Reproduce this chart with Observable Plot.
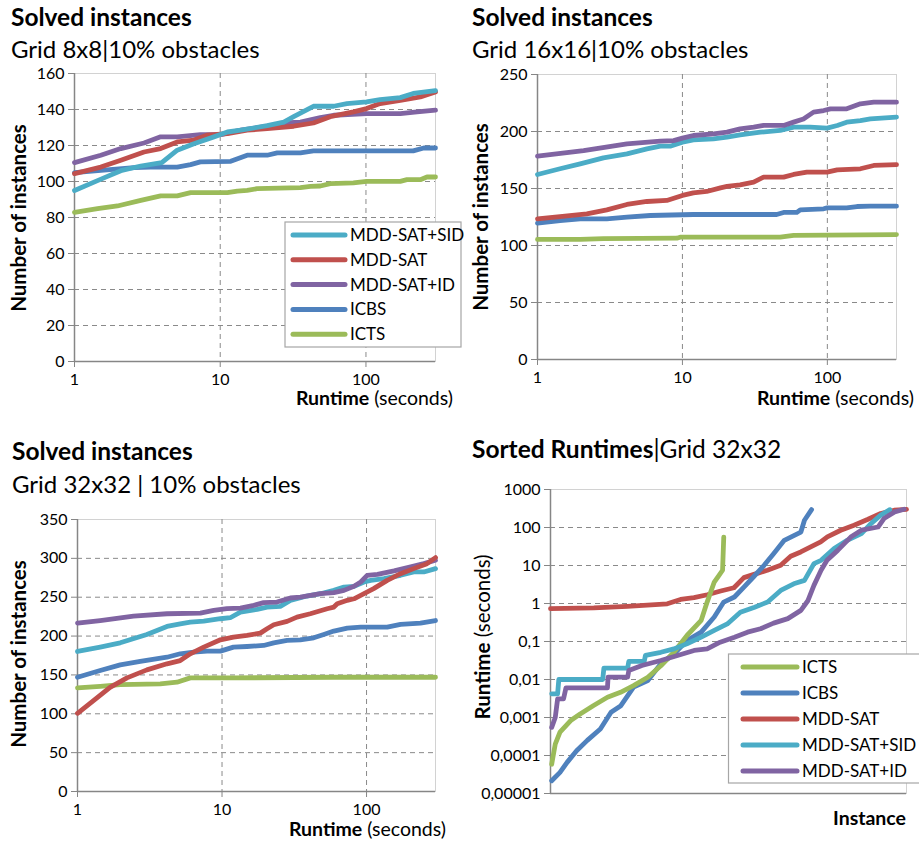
<!DOCTYPE html>
<html><head><meta charset="utf-8">
<script src="https://cdn.jsdelivr.net/npm/d3@7"></script>
<script src="https://cdn.jsdelivr.net/npm/@observablehq/plot@0.6"></script>
<style>
body{margin:0;width:919px;height:841px;overflow:hidden;background:#fff;position:relative;font-family:Lato,sans-serif}
.panel{position:absolute}
#overlay{position:absolute;left:0;top:0;z-index:5}
</style></head><body>
<script>
// ---------- series names and colours ----------
const SERIES = ["MDD-SAT+SID","MDD-SAT","MDD-SAT+ID","ICBS","ICTS"];
const COLORS = ["#4BACC6","#C0504D","#8064A2","#4F81BD","#9BBB59"];
const LEGEND1_ORDER = ["MDD-SAT+SID","MDD-SAT","MDD-SAT+ID","ICBS","ICTS"];
const LEGEND4_ORDER = ["ICTS","ICBS","MDD-SAT","MDD-SAT+SID","MDD-SAT+ID"];
const X_TICKS = [1,10,100];
const LOG_TICKS = [0.00001,0.0001,0.001,0.01,0.1,1,10,100,1000];
const LOG_TICK_LABELS = ["0,00001","0,0001","0,001","0,01","0,1","1","10","100","1000"];

// ---------- Panel 1: Grid 8x8 ----------
const p1SidX = [1,1.52,2.08,2.85,3.97,5.07,6.6,9.05,11.2,13.8,21,27.3,31.9,43.6,60,74,101,125,172,211,300];
const p1SidY = [95,101.3,106,108.6,110.5,117.4,121,124.8,127.5,128.5,131,133,136,141.8,141.8,143.3,144.2,145.5,146.6,148.9,150.5];
const p1SatX = [1,1.515,2.08,3.0,3.9,5.07,6.6,8.1,11.2,15.3,21,31.9,43.6,56.9,82,101,125,172,236,300];
const p1SatY = [104.4,108,111.8,116.4,118.3,122,123,125.7,126.6,128.5,129.4,130.7,132.5,136,138.7,140.5,143.3,145,147,149.8];
const p1IdX = [1,1.515,2.08,3.0,3.9,5.07,7.3,10.1,13.8,21,27.3,35.5,48.6,60,101,172,224,300];
const p1IdY = [110.5,114.6,118.3,121.4,124.8,124.8,126,126,128.5,130.7,132.5,133,135.5,136.8,137.7,137.7,138.7,139.6];
const p1IcbsX = [1,1.515,2.56,3.33,5.07,6.26,7.3,11.8,15.3,21,24.6,35.5,43.6,211,249,300];
const p1IcbsY = [104.9,106.2,107.7,108,108,109.4,110.9,111.2,114.6,114.6,115.9,115.9,117,117,118.6,118.6];
const p1IctsX = [1,1.44,1.97,2.85,3.9,5.07,6.26,11.2,13.1,15.3,17.9,35.5,41.6,48.6,56.9,82,101,172,191,236,262,300];
const p1IctsY = [82.9,84.9,86.4,89.5,92,92,93.8,93.8,94.7,95.1,96,96.6,97.3,97.5,98.8,99.2,100.1,100.1,101,101,102.5,102.5];

// ---------- Panel 2: Grid 16x16 ----------
const p2IdX = [1,2.08,4.14,7.04,8.7,10,11.9,16.4,20.3,25,31,36.3,49.9,58.5,68.4,80.3,94.4,105,136,169,209,300];
const p2IdY = [178.4,183.3,189.2,191.5,192,194.2,196.5,198,199.4,202.3,203.8,205.3,205.3,208.2,211,217,218.4,219.9,219.9,224.3,225.7,225.7];
const p2SidX = [1,1.43,1.97,2.85,4.14,5.69,7.04,8.23,10,11.9,16.4,20.3,25,34.5,47.3,58.5,76,99.5,117,136,169,198,300];
const p2SidY = [162.3,167.3,171.6,176.9,180.4,184.8,187.1,187.1,190.6,192.7,193.6,195,197,199.4,200.9,203.8,203.8,203,205.3,208.2,209.6,211,212.6];
const p2SatX = [1,1.43,2.19,3.01,4.14,5.69,7.8,10,11.9,14.7,18.3,20.3,25,31,36.3,49.9,58.5,72.2,99.5,117,169,209,300];
const p2SatY = [123.4,125.4,127.8,131.3,136,138.6,139.5,143.9,146.2,147.4,150.6,151.8,153.2,155.6,160,160,162.3,164.3,164.3,166.4,167.3,170.2,171];
const p2IcbsX = [1,1.43,1.97,3.01,4.14,6.0,11.9,44.7,49.9,61.6,65,94.4,99.5,136,160,198,300];
const p2IcbsY = [119.6,121.9,123.4,123.4,124.9,126.3,127.2,127.2,129,129,131.3,132.2,133,133,134.2,134.5,134.5];
const p2IctsX = [1,1.97,2.85,9.15,9.63,47.3,58.5,300];
const p2IctsY = [105.3,105.3,106.1,106.4,107.3,107.3,108.8,109.6];

// ---------- Panel 3: Grid 32x32 ----------
const p3IdX = [1,1.436,2.44,4.16,7.08,8.76,10.8,13.4,16.6,19.4,24.0,29.7,34.8,48.0,59.4,69.8,81.9,91.2,101,119,155,202,249,300];
const p3IdY = [216.7,220,225.7,228.7,229.6,233,235.2,236,239.5,243,243.8,249,250.2,254.5,255.8,258.8,264,269.6,278.2,279.5,283.8,289,293.2,297.5];
const p3SidX = [1,1.436,1.975,3.02,4.16,5.14,6.03,7.47,9.75,11.4,13.4,17.5,20.5,25.3,29.7,38.7,48.0,59.4,69.8,81.9,96.1,107,132,172,212,249,300];
const p3SidY = [180.2,185.8,191.3,202,212.4,215.8,218,219.3,222.3,223.6,230.9,234.3,237.3,238.2,246,251.5,254.5,258.8,263.1,264,269.6,271.7,273.9,278.2,282.5,282.5,286.8];
const p3SatX = [1,1.29,1.68,2.2,3.02,4.16,5.14,6.03,7.47,9.75,12.0,14.9,18.4,20.5,22.8,28.2,33.0,40.8,53.4,59.4,62.7,73.6,81.9,96.1,112,139,172,212,262,300];
const p3SatY = [100.6,117,134,146.2,156.5,164.3,168.5,177.2,185.8,195.2,198.6,200.8,203.8,209.4,214.6,218.9,224.4,228.7,235.2,237.3,241.6,246,248,254.5,261,271.7,280.3,286.8,293.2,301];
const p3IcbsX = [1,1.436,1.975,2.72,4.16,5.14,6.36,7.87,9.75,12.0,14.9,19.4,22.8,28.2,34.8,43.1,50.6,59.4,73.6,91.2,139,172,236,300];
const p3IcbsY = [147,155.7,163,167.3,172.8,177.2,179.3,180.6,180.6,185.8,186.6,187.9,191.3,194.4,195.2,197.8,202,206.4,210.3,211.5,211.5,215,216.7,220];
const p3IctsX = [1,1.436,1.975,3.74,4.88,6.03,12.0,59.4,300];
const p3IctsY = [133.3,135.4,137.6,138.5,140.6,146.2,146.2,147,147];

// ---------- Panel 4: Sorted runtimes, Grid 32x32 ----------
const p4IctsI = [1,4,8,17,25,36,48,59,70,82,93,104,115,127,132,138,142,145,146];
const p4IctsT = [5.9e-5,2e-4,4.1e-4,8.3e-4,0.00124,0.00204,0.0034,0.0046,0.0069,0.0115,0.023,0.052,0.144,0.36,1.09,3.67,5.5,7.5,56];
const p4IcbsI = [1,8,14,22,31,42,51,59,70,82,93,104,115,127,138,146,155,163,171,180,188,197,211,214,220];
const p4IcbsT = [2.16e-5,3.6e-5,6.6e-5,1.33e-4,2.5e-4,5e-4,0.00137,0.002,0.0063,0.0094,0.026,0.047,0.106,0.176,0.44,1.09,1.48,2.7,4.98,10.1,20.5,46,76,155,295];
const p4SatI = [0,36.5,64.7,98.4,109.6,120.9,132.1,143.4,154.6,163,171.5,182.7,194,202.4,210.9,219.3,227.7,233.3,244.6,255.8,267.1,278.3,289.6,300];
const p4SatT = [0.73,0.77,0.84,0.98,1.28,1.42,1.70,2.13,2.6,4.8,5.85,7.5,10.1,17.5,22.7,30.8,41.7,56.5,84.6,115,162,233,285,300];
const p4SidI = [1,6,7,44,45,65,66,79,80,93,104,115,127,138,149,160,172,183,194,205,214,222,228,239,250,262,270,278,286];
const p4SidT = [0.0042,0.0042,0.01,0.01,0.02,0.02,0.03,0.03,0.043,0.052,0.064,0.087,0.13,0.195,0.29,0.59,0.8,1.09,2.2,3.3,4.06,11.2,13.7,27.8,46,69,126,209,295];
const p4IdI = [1,4,6,11,13,48,48.5,65,66,77,93,107,121,132,143,155,166,177,188,200,211,217,222,228,233,242,253,262,276,281,290,298];
const p4IdT = [5.5e-4,0.001,0.0031,0.0031,0.006,0.006,0.0115,0.0115,0.0172,0.0234,0.0316,0.043,0.058,0.064,0.096,0.13,0.176,0.216,0.305,0.4,0.66,1.2,3.0,7.5,13.7,25,56,85,103,172,257,302];

// ---------- helpers ----------
const colorOf = name => COLORS[SERIES.indexOf(name)];
const rows = (xs, ys) => xs.map((x, i) => ({x, y: ys[i]}));
const AXIS = "#868686", GRID = "#8a8a8a", FRAME = "#d2d2d2";
const STYLE = {fontFamily: "Lato, sans-serif", fontSize: "16px", color: "#000", background: "transparent"};

function place(svg, left, top) {
  const d = document.createElement("div");
  d.className = "panel"; d.style.left = left + "px"; d.style.top = top + "px";
  d.appendChild(svg); document.body.appendChild(d);
}
function lineMarks(list) {
  return list.map(([name, xs, ys]) => Plot.line(rows(xs, ys), {
    x: "x", y: "y", stroke: colorOf(name), strokeWidth: 4.8,
    strokeLinecap: "round", strokeLinejoin: "round"
  }));
}
function solvedPanel({left, top, width, height, mt, mr, mb, ml, yMax, yStep, series}) {
  const yTicks = d3.range(0, yMax + 1e-9, yStep);
  const svg = Plot.plot({
    width, height, marginTop: mt, marginRight: mr, marginBottom: mb, marginLeft: ml,
    style: STYLE,
    x: {type: "log", domain: [1, 300]},
    y: {domain: [0, yMax]},
    marks: [
      Plot.frame({stroke: FRAME}),
      Plot.gridY(yTicks.filter(t => t > 0 && t < yMax), {stroke: GRID, strokeOpacity: 1, strokeDasharray: "5,4"}),
      Plot.gridX(X_TICKS.filter(t => t > 1), {stroke: GRID, strokeOpacity: 1, strokeDasharray: "5,4"}),
      Plot.ruleX([1], {stroke: AXIS, strokeWidth: 1.5}),
      Plot.ruleY([0], {stroke: AXIS, strokeWidth: 1.5}),
      Plot.axisY(yTicks, {tickSize: 6, tickPadding: 4, stroke: AXIS, fill: "#000", label: null}),
      Plot.axisX(X_TICKS, {tickSize: 6, tickPadding: 6, stroke: AXIS, fill: "#000", label: null, tickFormat: d => String(d)}),
      ...lineMarks(series)
    ]
  });
  place(svg, left, top);
}

solvedPanel({left: 0, top: 60, width: 460, height: 350, mt: 13, mr: 25, mb: 49, ml: 74, yMax: 160, yStep: 20,
  series: [["ICTS", p1IctsX, p1IctsY], ["ICBS", p1IcbsX, p1IcbsY], ["MDD-SAT+ID", p1IdX, p1IdY], ["MDD-SAT", p1SatX, p1SatY], ["MDD-SAT+SID", p1SidX, p1SidY]]});
solvedPanel({left: 460, top: 60, width: 459, height: 350, mt: 14, mr: 23, mb: 51, ml: 77, yMax: 250, yStep: 50,
  series: [["ICTS", p2IctsX, p2IctsY], ["ICBS", p2IcbsX, p2IcbsY], ["MDD-SAT", p2SatX, p2SatY], ["MDD-SAT+SID", p2SidX, p2SidY], ["MDD-SAT+ID", p2IdX, p2IdY]]});
solvedPanel({left: 0, top: 505, width: 460, height: 336, mt: 14, mr: 25, mb: 50, ml: 77, yMax: 350, yStep: 50,
  series: [["ICTS", p3IctsX, p3IctsY], ["ICBS", p3IcbsX, p3IcbsY], ["MDD-SAT+SID", p3SidX, p3SidY], ["MDD-SAT+ID", p3IdX, p3IdY], ["MDD-SAT", p3SatX, p3SatY]]});

// Panel 4
{
  const svg = Plot.plot({
    width: 459, height: 366, marginTop: 14, marginRight: 13, marginBottom: 48, marginLeft: 90,
    style: STYLE,
    x: {domain: [0, 300], axis: null},
    y: {type: "log", domain: [1e-5, 1000]},
    marks: [
      Plot.frame({stroke: FRAME}),
      Plot.gridY(LOG_TICKS.slice(1, -1), {stroke: GRID, strokeOpacity: 1, strokeDasharray: "5,4"}),
      Plot.ruleX([0], {stroke: AXIS, strokeWidth: 1.5}),
      Plot.ruleY([1e-5], {stroke: AXIS, strokeWidth: 1.5}),
      Plot.axisY(LOG_TICKS, {tickSize: 6, tickPadding: 4, stroke: AXIS, fill: "#000", label: null,
        tickFormat: d => LOG_TICK_LABELS[LOG_TICKS.indexOf(d)]}),
      ...lineMarks([["MDD-SAT", p4SatI, p4SatT], ["ICBS", p4IcbsI, p4IcbsT], ["ICTS", p4IctsI, p4IctsT],
                    ["MDD-SAT+SID", p4SidI, p4SidT], ["MDD-SAT+ID", p4IdI, p4IdT]])
    ]
  });
  place(svg, 460, 475);
}

// ---------- overlay text: titles, axis labels, legends ----------
const ov = d3.select("body").append("svg").attr("id", "overlay").attr("width", 919).attr("height", 841)
  .style("font-family", "Lato, sans-serif");
function txt(x, y, parts, size, anchor = "start", rotate = false) {
  const t = ov.append("text").attr("font-size", size).attr("fill", "#000").attr("text-anchor", anchor);
  if (rotate) t.attr("transform", `translate(${x},${y}) rotate(-90)`); else t.attr("x", x).attr("y", y);
  parts.forEach(([s, bold]) => t.append("tspan").attr("font-weight", bold ? 700 : 400).text(s));
}
const TITLE = 24.5, SUB = 24, AXL = 19.5, YL = 20.5;
txt(11, 26, [["Solved instances", 1]], TITLE);
txt(11, 58, [["Grid 8x8|10% obstacles", 0]], SUB);
txt(472, 26, [["Solved instances", 1]], TITLE);
txt(472, 58, [["Grid 16x16|10% obstacles", 0]], SUB);
txt(12, 460, [["Solved instances", 1]], TITLE);
txt(12, 493, [["Grid 32x32 | 10% obstacles", 0]], SUB);
txt(472, 458, [["Sorted Runtimes", 1], ["|Grid 32x32", 0]], TITLE);

txt(453, 405, [["Runtime", 1], [" (seconds)", 0]], AXL, "end");
txt(914, 405, [["Runtime", 1], [" (seconds)", 0]], AXL, "end");
txt(446, 836, [["Runtime", 1], [" (seconds)", 0]], AXL, "end");
txt(906, 825, [["Instance", 1]], AXL, "end");

txt(26, 218, [["Number of instances", 1]], YL, "middle", true);
txt(488, 217, [["Number of instances", 1]], YL, "middle", true);
txt(26, 654, [["Number of instances", 1]], YL, "middle", true);
txt(490, 637, [["Runtime", 1], [" (seconds)", 0]], YL, "middle", true);

function legend(x0, y0, w, h, firstRow, step, swX0, swX1, textX, order) {
  ov.append("rect").attr("x", x0).attr("y", y0).attr("width", w).attr("height", h)
    .attr("fill", "#fff").attr("stroke", "#a6a6a6").attr("stroke-width", 1.2);
  order.forEach((name, i) => {
    const y = firstRow + i * step;
    ov.append("line").attr("x1", swX0).attr("x2", swX1).attr("y1", y).attr("y2", y)
      .attr("stroke", colorOf(name)).attr("stroke-width", 5).attr("stroke-linecap", "round");
    ov.append("text").attr("x", textX).attr("y", y + 6).attr("font-size", 17).text(name);
  });
}
legend(285, 222, 176, 125, 235, 24.8, 293, 345, 350, LEGEND1_ORDER);
legend(728.5, 654, 230, 129, 667, 26, 743, 797, 802, LEGEND4_ORDER);
</script>
</body></html>
